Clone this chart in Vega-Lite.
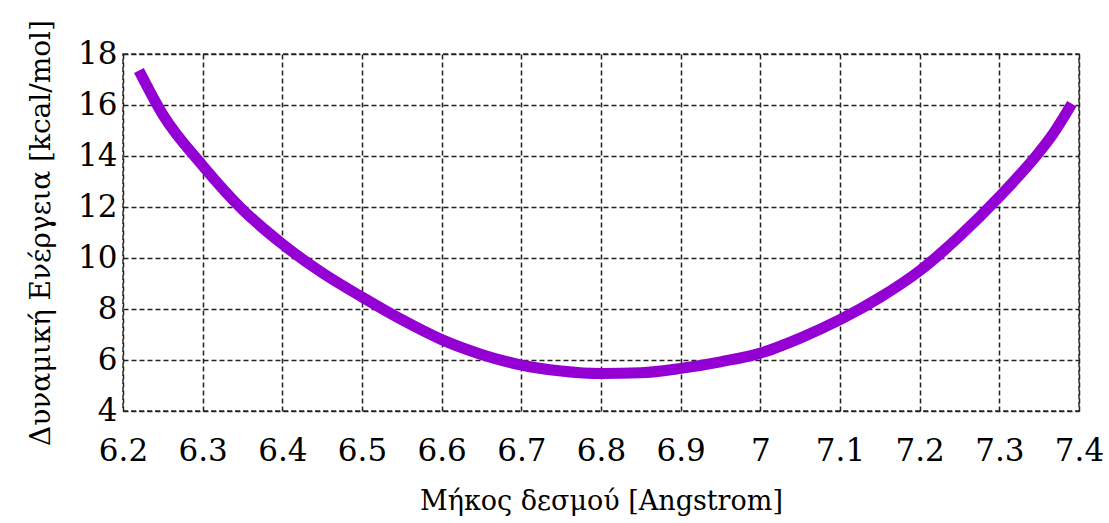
{
  "$schema": "https://vega.github.io/schema/vega-lite/v6.json",
  "width": 956,
  "height": 357,
  "autosize": {"type": "none"},
  "padding": {"left": 123, "top": 54, "right": 30, "bottom": 112},
  "background": "white",
  "config": {
    "view": {"stroke": "#333333", "strokeWidth": 1.5, "strokeDash": [5, 3]},
    "font": "DejaVu Serif"
  },
  "data": {
    "values": [
      {"r": 6.22, "e": 17.35},
      {"r": 6.25, "e": 15.62},
      {"r": 6.3, "e": 13.62},
      {"r": 6.35, "e": 11.9},
      {"r": 6.4, "e": 10.55},
      {"r": 6.45, "e": 9.42},
      {"r": 6.5, "e": 8.47},
      {"r": 6.55, "e": 7.58},
      {"r": 6.6, "e": 6.8},
      {"r": 6.65, "e": 6.22},
      {"r": 6.7, "e": 5.8},
      {"r": 6.75, "e": 5.57},
      {"r": 6.8, "e": 5.47},
      {"r": 6.85, "e": 5.5},
      {"r": 6.9, "e": 5.67},
      {"r": 6.95, "e": 5.93},
      {"r": 7.0, "e": 6.27},
      {"r": 7.05, "e": 6.86},
      {"r": 7.1, "e": 7.58},
      {"r": 7.15, "e": 8.45},
      {"r": 7.2, "e": 9.5},
      {"r": 7.25, "e": 10.85},
      {"r": 7.3, "e": 12.4},
      {"r": 7.35, "e": 14.15},
      {"r": 7.367, "e": 14.85},
      {"r": 7.391, "e": 16.05}
    ]
  },
  "mark": {"type": "line", "color": "#9400D3", "strokeWidth": 11, "strokeCap": "butt", "interpolate": "monotone", "clip": true},
  "encoding": {
    "x": {
      "field": "r",
      "type": "quantitative",
      "scale": {"domain": [6.2, 7.4], "nice": false, "zero": false},
      "axis": {
        "title": "Μήκος δεσμού [Angstrom]",
        "titleFont": "DejaVu Serif",
        "titleFontSize": 27,
        "titleFontWeight": "normal",
        "titleColor": "#000000",
        "titlePadding": 22,
        "values": [6.2, 6.3, 6.4, 6.5, 6.6, 6.7, 6.8, 6.9, 7.0, 7.1, 7.2, 7.3, 7.4],
        "format": "~g",
        "labelFont": "DejaVu Serif",
        "labelFontSize": 31,
        "labelColor": "#000000",
        "labelPadding": 25,
        "labelFlush": false,
        "labelOverlap": false,
        "domain": false,
        "ticks": false,
        "grid": true,
        "gridColor": "#222222",
        "gridWidth": 1.5,
        "gridDash": [5, 3],
        "gridOpacity": 1
      }
    },
    "y": {
      "field": "e",
      "type": "quantitative",
      "scale": {"domain": [4, 18], "nice": false, "zero": false},
      "axis": {
        "title": "Δυναμική Ενέργεια [kcal/mol]",
        "titleFont": "DejaVu Serif",
        "titleFontSize": 28,
        "titleFontWeight": "normal",
        "titleColor": "#000000",
        "titlePadding": 22,
        "values": [4, 6, 8, 10, 12, 14, 16, 18],
        "labelFont": "DejaVu Serif",
        "labelFontSize": 31,
        "labelColor": "#000000",
        "labelPadding": 6,
        "labelFlush": false,
        "labelOverlap": false,
        "domain": false,
        "ticks": false,
        "grid": true,
        "gridColor": "#222222",
        "gridWidth": 1.5,
        "gridDash": [5, 3],
        "gridOpacity": 1
      }
    }
  }
}
